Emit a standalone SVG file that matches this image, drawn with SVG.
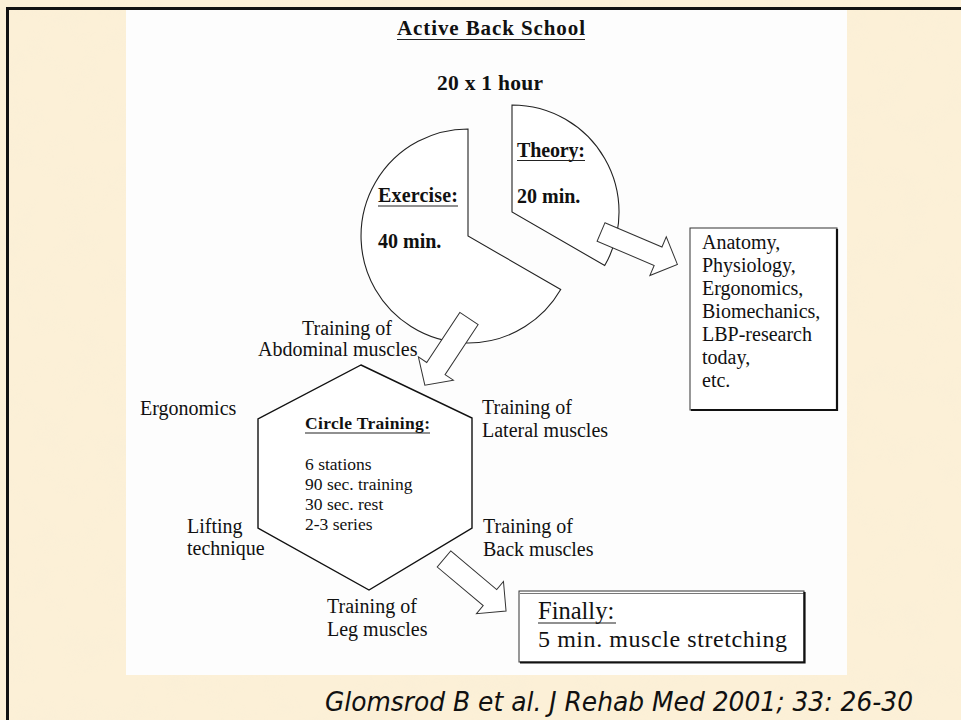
<svg xmlns="http://www.w3.org/2000/svg" width="961" height="720" viewBox="0 0 961 720">
  <defs>
    <filter id="mottle" x="0" y="0" width="100%" height="100%">
      <feTurbulence type="fractalNoise" baseFrequency="0.03" numOctaves="3" seed="7"/>
      <feColorMatrix type="matrix" values="0 0 0 0 0.93  0 0 0 0 0.85  0 0 0 0 0.68  1.6 0 0 0 -0.7"/>
    </filter>
    <style>
      .serif { font-family: "Liberation Serif", "Times New Roman", serif; fill: #111; }
      .lbl { font-size: 20px; }
      .bold { font-weight: bold; }
      .small { font-size: 17.5px; }
      .ul { stroke: #222; stroke-width: 1.2; }
      .shape { fill: #fff; stroke: #222; stroke-width: 1.1; }
      .hex { fill: #fff; stroke: #111; stroke-width: 1.4; }
      .arrow { fill: #fff; stroke: #333; stroke-width: 1; stroke-linejoin: miter; }
      .box { fill: #fff; stroke: #333; stroke-width: 1; }
      .shadow { stroke: #111; stroke-width: 2.2; fill: none; }
      .cite { font-family: "DejaVu Sans", "Liberation Sans", sans-serif; font-style: italic; font-size: 26px; fill: #111; }
    </style>
  </defs>

  <!-- parchment background -->
  <rect x="0" y="0" width="961" height="720" fill="#fcf0d7"/>
  <rect x="0" y="0" width="961" height="720" filter="url(#mottle)" opacity="0.35"/>

  <!-- frame -->
  <path d="M7.5,720 L7.5,8.5 L961,8.5" fill="none" stroke="#111" stroke-width="3"/>

  <!-- white page -->
  <rect x="126" y="10" width="721" height="665" fill="#fdfdfd"/>

  <!-- headings -->
  <g id="title">
    <text class="serif bold" x="397" y="35" font-size="21" textLength="188" lengthAdjust="spacing">Active Back School</text>
    <line class="ul" x1="397" y1="39.5" x2="585" y2="39.5"/>
    <text class="serif bold" x="437" y="90" font-size="21.5" textLength="106" lengthAdjust="spacing">20 x 1 hour</text>
  </g>

  <!-- exploded pie: exercise 40 min / theory 20 min -->
  <g id="exercise">
    <path class="shape" d="M468,129 L468,236 L560.7,289.5 A107,107 0 1 1 468,129 Z"/>
    <text class="serif bold lbl" x="378" y="202" textLength="80" lengthAdjust="spacing">Exercise:</text>
    <line class="ul" x1="378" y1="206" x2="458" y2="206"/>
    <text class="serif bold lbl" x="378" y="248">40 min.</text>
  </g>
  <g id="theory">
    <path class="shape" d="M512,105 A107,107 0 0 1 604.7,265.5 L512,212 Z"/>
    <text class="serif bold lbl" x="517" y="157" textLength="68" lengthAdjust="spacing">Theory:</text>
    <line class="ul" x1="517" y1="160.5" x2="585" y2="160.5"/>
    <text class="serif bold lbl" x="517" y="203">20 min.</text>
  </g>

  <!-- theory topics -->
  <g id="topics">
    <rect class="box" x="690" y="228" width="147" height="182"/>
    <path class="shadow" d="M837,229 L837,410 L691,410"/>
    <text class="serif lbl" x="702" y="249">Anatomy,</text>
    <text class="serif lbl" x="702" y="272">Physiology,</text>
    <text class="serif lbl" x="702" y="295">Ergonomics,</text>
    <text class="serif lbl" x="702" y="318">Biomechanics,</text>
    <text class="serif lbl" x="702" y="341">LBP-research</text>
    <text class="serif lbl" x="702" y="364">today,</text>
    <text class="serif lbl" x="702" y="387">etc.</text>
  </g>

  <!-- circle training station -->
  <g id="circle-training">
    <path class="hex" d="M361,365 L472,418 L472,528 L369,590 L258,528 L258,419 Z"/>
    <text class="serif bold" x="305" y="429" font-size="17.5" textLength="125" lengthAdjust="spacing">Circle Training:</text>
    <line class="ul" x1="305" y1="433" x2="430" y2="433"/>
    <text class="serif small" x="305" y="470">6 stations</text>
    <text class="serif small" x="305" y="490">90 sec. training</text>
    <text class="serif small" x="305" y="510">30 sec. rest</text>
    <text class="serif small" x="305" y="530">2-3 series</text>
  </g>

  <!-- station labels -->
  <g id="stations">
    <text class="serif lbl" x="302" y="335">Training of</text>
    <text class="serif lbl" x="258" y="356">Abdominal muscles</text>
    <text class="serif lbl" x="482" y="414">Training of</text>
    <text class="serif lbl" x="482" y="437">Lateral muscles</text>
    <text class="serif lbl" x="483" y="533">Training of</text>
    <text class="serif lbl" x="483" y="556">Back muscles</text>
    <text class="serif lbl" x="327" y="613">Training of</text>
    <text class="serif lbl" x="327" y="636">Leg muscles</text>
    <text class="serif lbl" x="140" y="415">Ergonomics</text>
    <text class="serif lbl" x="187" y="533">Lifting</text>
    <text class="serif lbl" x="187" y="555">technique</text>
  </g>

  <!-- final stretching -->
  <g id="finally">
    <rect class="box" x="519" y="591" width="285" height="71"/>
    <line x1="520" y1="593.5" x2="804" y2="593.5" stroke="#555" stroke-width="0.8"/>
    <path class="shadow" d="M804.5,592 L804.5,662.5 L520,662.5"/>
    <text class="serif" x="538" y="619" font-size="24.5">Finally:</text>
    <line class="ul" x1="538" y1="623" x2="616" y2="623"/>
    <text class="serif" x="538" y="647" font-size="24" textLength="249" lengthAdjust="spacing">5 min. muscle stretching</text>
  </g>

  <!-- hollow block arrows -->
  <g id="connectors">
    <path class="arrow" transform="translate(601,232) rotate(23)" d="M0,-10 L62,-10 L62,-21 L83,0 L62,21 L62,10 L0,10 Z"/>
    <path class="arrow" transform="translate(469,318.5) rotate(123.5)" d="M0,-11 L60,-11 L60,-21 L80,0 L60,21 L60,11 L0,11 Z"/>
    <path class="arrow" transform="translate(444,559) rotate(40)" d="M0,-10.5 L60,-10.5 L60,-21 L81,0 L60,21 L60,10.5 L0,10.5 Z"/>
  </g>

  <!-- reference -->
  <text class="cite" x="325" y="711" textLength="588" lengthAdjust="spacingAndGlyphs">Glomsrod B et al. J Rehab Med 2001; 33: 26-30</text>
</svg>
